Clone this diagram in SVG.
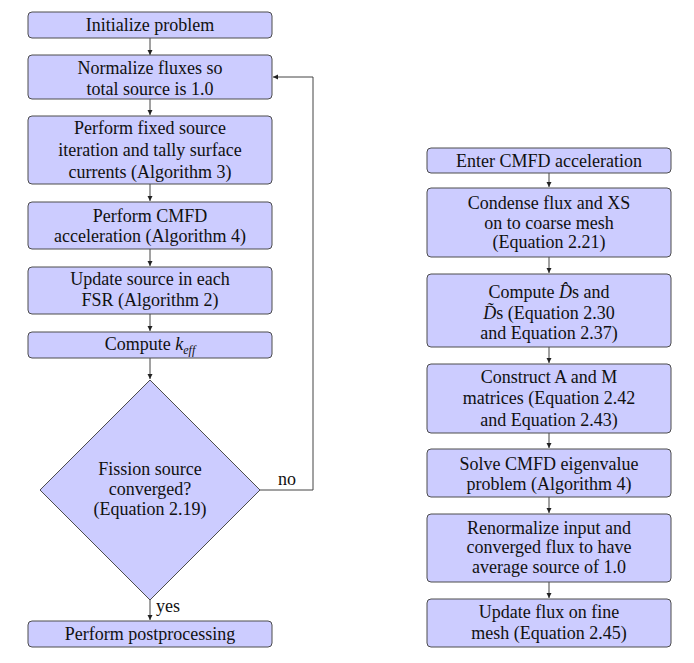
<svg xmlns="http://www.w3.org/2000/svg" width="694" height="663" viewBox="0 0 694 663">
<style>
.box{fill:#ccccff;stroke:#4d4d4d;stroke-width:1}
.t{font-family:"Liberation Serif","DejaVu Serif",serif;font-size:18px;fill:#111;text-anchor:middle}
.l{font-family:"Liberation Serif","DejaVu Serif",serif;font-size:18px;fill:#111}
.c{fill:none;stroke:#444;stroke-width:1}
</style>
<defs>
<marker id="ah" markerWidth="6" markerHeight="6" refX="5" refY="3" orient="auto" markerUnits="userSpaceOnUse">
<path d="M0,0.5 L5,3 L0,5.5 Z" fill="#222"/>
</marker>
</defs>
<rect width="694" height="663" fill="#fff"/>
<g id="connectors">
<line class="c" x1="150" y1="38" x2="150" y2="55" marker-end="url(#ah)"/>
<line class="c" x1="150" y1="99" x2="150" y2="115" marker-end="url(#ah)"/>
<line class="c" x1="150" y1="184" x2="150" y2="201" marker-end="url(#ah)"/>
<line class="c" x1="150" y1="249" x2="150" y2="266" marker-end="url(#ah)"/>
<line class="c" x1="150" y1="314" x2="150" y2="331" marker-end="url(#ah)"/>
<line class="c" x1="150" y1="358" x2="150" y2="379" marker-end="url(#ah)"/>
<line class="c" x1="150" y1="600" x2="150" y2="620" marker-end="url(#ah)"/>
<polyline class="c" points="260,490 313,490 313,77 273,77" marker-end="url(#ah)"/>
<line class="c" x1="549" y1="173" x2="549" y2="187" marker-end="url(#ah)"/>
<line class="c" x1="549" y1="257" x2="549" y2="273" marker-end="url(#ah)"/>
<line class="c" x1="549" y1="347" x2="549" y2="363" marker-end="url(#ah)"/>
<line class="c" x1="549" y1="433" x2="549" y2="448" marker-end="url(#ah)"/>
<line class="c" x1="549" y1="497" x2="549" y2="513" marker-end="url(#ah)"/>
<line class="c" x1="549" y1="582" x2="549" y2="598" marker-end="url(#ah)"/>
<text class="l" x="278" y="485">no</text>
<text class="l" x="156" y="612">yes</text>
</g>
<g id="init">
<rect class="box" x="28" y="12" width="244" height="26" rx="4"/>
<text class="t" x="150" y="31">Initialize problem</text>
</g>
<g id="normalize">
<rect class="box" x="28" y="55" width="244" height="44" rx="4"/>
<text class="t" x="150" y="74">Normalize fluxes so</text>
<text class="t" x="150" y="95">total source is 1.0</text>
</g>
<g id="fixedsource">
<rect class="box" x="28" y="116" width="244" height="68" rx="4"/>
<text class="t" x="150" y="134">Perform fixed source</text>
<text class="t" x="150" y="156">iteration and tally surface</text>
<text class="t" x="150" y="178">currents (Algorithm 3)</text>
</g>
<g id="cmfd">
<rect class="box" x="28" y="202" width="244" height="47" rx="4"/>
<text class="t" x="150" y="222">Perform CMFD</text>
<text class="t" x="150" y="242">acceleration (Algorithm 4)</text>
</g>
<g id="updatesource">
<rect class="box" x="28" y="267" width="244" height="47" rx="4"/>
<text class="t" x="150" y="285">Update source in each</text>
<text class="t" x="150" y="306">FSR (Algorithm 2)</text>
</g>
<g id="keff">
<rect class="box" x="28" y="332" width="244" height="26" rx="4"/>
<text class="t" x="150" y="350">Compute <tspan font-style="italic">k</tspan><tspan font-style="italic" font-size="12px" dy="4">eff</tspan></text>
</g>
<g id="decision">
<polygon class="box" points="150,380 260,490 150,600 40,490"/>
<text class="t" x="150" y="475">Fission source</text>
<text class="t" x="150" y="495">converged?</text>
<text class="t" x="150" y="515">(Equation 2.19)</text>
</g>
<g id="post">
<rect class="box" x="28" y="621" width="244" height="26" rx="4"/>
<text class="t" x="150" y="640">Perform postprocessing</text>
</g>
<g id="enter">
<rect class="box" x="427" y="148" width="244" height="25" rx="4"/>
<text class="t" x="549" y="167">Enter CMFD acceleration</text>
</g>
<g id="condense">
<rect class="box" x="427" y="188" width="244" height="69" rx="4"/>
<text class="t" x="549" y="209">Condense flux and XS</text>
<text class="t" x="549" y="229">on to coarse mesh</text>
<text class="t" x="549" y="248">(Equation 2.21)</text>
</g>
<g id="computeD">
<rect class="box" x="427" y="274" width="244" height="73" rx="4"/>
<text class="t" x="549" y="298">Compute <tspan font-style="italic">D̂</tspan>s and</text>
<text class="t" x="549" y="319"><tspan font-style="italic">D̃</tspan>s (Equation 2.30</text>
<text class="t" x="549" y="339">and Equation 2.37)</text>
</g>
<g id="construct">
<rect class="box" x="427" y="364" width="244" height="69" rx="4"/>
<text class="t" x="549" y="383">Construct A and M</text>
<text class="t" x="549" y="404">matrices (Equation 2.42</text>
<text class="t" x="549" y="426">and Equation 2.43)</text>
</g>
<g id="solve">
<rect class="box" x="427" y="449" width="244" height="48" rx="4"/>
<text class="t" x="549" y="470">Solve CMFD eigenvalue</text>
<text class="t" x="549" y="490">problem (Algorithm 4)</text>
</g>
<g id="renormalize">
<rect class="box" x="427" y="514" width="244" height="68" rx="4"/>
<text class="t" x="549" y="534">Renormalize input and</text>
<text class="t" x="549" y="553">converged flux to have</text>
<text class="t" x="549" y="573">average source of 1.0</text>
</g>
<g id="updateflux">
<rect class="box" x="427" y="599" width="244" height="48" rx="4"/>
<text class="t" x="549" y="618">Update flux on fine</text>
<text class="t" x="549" y="639">mesh (Equation 2.45)</text>
</g>
</svg>
